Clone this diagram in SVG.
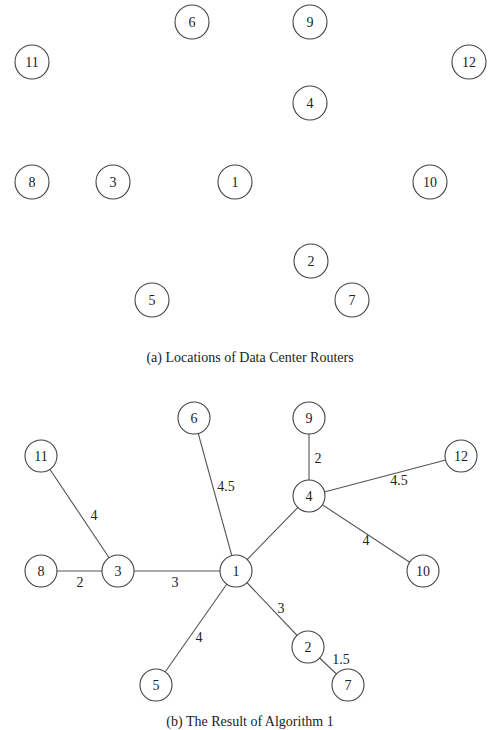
<svg xmlns="http://www.w3.org/2000/svg" width="500" height="730" viewBox="0 0 500 730">
<style>
.n circle{fill:#fff;stroke:#444;stroke-width:1.1}
text{font-family:"Liberation Serif","Times New Roman",serif;font-size:14px;fill:#222}
.n text{text-anchor:middle;dominant-baseline:central}
.e line{stroke:#555;stroke-width:1.1}
.lbl{text-anchor:middle}
.cap{text-anchor:middle;font-size:14px}
</style>
<rect width="500" height="730" fill="#fff"/>
<!-- Panel (a) -->
<g id="a-n6" class="n"><circle cx="192" cy="22" r="17"/><text x="192" y="22">6</text></g>
<g id="a-n9" class="n"><circle cx="310" cy="22" r="17"/><text x="310" y="22">9</text></g>
<g id="a-n11" class="n"><circle cx="32" cy="62" r="17"/><text x="32" y="62">11</text></g>
<g id="a-n12" class="n"><circle cx="469" cy="62" r="17"/><text x="469" y="62">12</text></g>
<g id="a-n4" class="n"><circle cx="310" cy="103" r="17"/><text x="310" y="103">4</text></g>
<g id="a-n8" class="n"><circle cx="32" cy="182" r="17"/><text x="32" y="182">8</text></g>
<g id="a-n3" class="n"><circle cx="113" cy="182" r="17"/><text x="113" y="182">3</text></g>
<g id="a-n1" class="n"><circle cx="235" cy="182" r="17"/><text x="235" y="182">1</text></g>
<g id="a-n10" class="n"><circle cx="430" cy="182" r="17"/><text x="430" y="182">10</text></g>
<g id="a-n2" class="n"><circle cx="311" cy="261" r="17"/><text x="311" y="261">2</text></g>
<g id="a-n5" class="n"><circle cx="152" cy="300" r="17"/><text x="152" y="300">5</text></g>
<g id="a-n7" class="n"><circle cx="352" cy="300" r="17"/><text x="352" y="300">7</text></g>
<text class="cap" x="250" y="362">(a) Locations of Data Center Routers</text>
<!-- Panel (b) connectors -->
<g id="connectors" class="e">
<line x1="41" y1="456" x2="118" y2="571"/>
<line x1="41" y1="571" x2="118" y2="571"/>
<line x1="118" y1="571" x2="236" y2="571"/>
<line x1="194" y1="418" x2="236" y2="571"/>
<line x1="309" y1="418" x2="309" y2="496"/>
<line x1="309" y1="496" x2="461" y2="456"/>
<line x1="309" y1="496" x2="236" y2="571"/>
<line x1="309" y1="496" x2="423" y2="571"/>
<line x1="236" y1="571" x2="308" y2="647"/>
<line x1="236" y1="571" x2="156" y2="685"/>
<line x1="308" y1="647" x2="348" y2="685"/>
</g>
<g id="edge-labels">
<text class="lbl" x="94" y="520">4</text>
<text class="lbl" x="80" y="587">2</text>
<text class="lbl" x="175" y="587">3</text>
<text class="lbl" x="226" y="491">4.5</text>
<text class="lbl" x="318" y="463">2</text>
<text class="lbl" x="399" y="485">4.5</text>
<text class="lbl" x="366" y="545">4</text>
<text class="lbl" x="281" y="613">3</text>
<text class="lbl" x="199" y="642">4</text>
<text class="lbl" x="341" y="664">1.5</text>
</g>
<!-- Panel (b) nodes -->
<g id="b-n6" class="n"><circle cx="194" cy="418" r="16"/><text x="194" y="418">6</text></g>
<g id="b-n9" class="n"><circle cx="309" cy="418" r="16"/><text x="309" y="418">9</text></g>
<g id="b-n11" class="n"><circle cx="41" cy="456" r="16"/><text x="41" y="456">11</text></g>
<g id="b-n12" class="n"><circle cx="461" cy="456" r="16"/><text x="461" y="456">12</text></g>
<g id="b-n4" class="n"><circle cx="309" cy="496" r="16"/><text x="309" y="496">4</text></g>
<g id="b-n8" class="n"><circle cx="41" cy="571" r="16"/><text x="41" y="571">8</text></g>
<g id="b-n3" class="n"><circle cx="118" cy="571" r="16"/><text x="118" y="571">3</text></g>
<g id="b-n1" class="n"><circle cx="236" cy="571" r="16"/><text x="236" y="571">1</text></g>
<g id="b-n10" class="n"><circle cx="423" cy="571" r="16"/><text x="423" y="571">10</text></g>
<g id="b-n2" class="n"><circle cx="308" cy="647" r="16"/><text x="308" y="647">2</text></g>
<g id="b-n5" class="n"><circle cx="156" cy="685" r="16"/><text x="156" y="685">5</text></g>
<g id="b-n7" class="n"><circle cx="348" cy="685" r="16"/><text x="348" y="685">7</text></g>
<text class="cap" x="250" y="726">(b) The Result of Algorithm 1</text>
</svg>
